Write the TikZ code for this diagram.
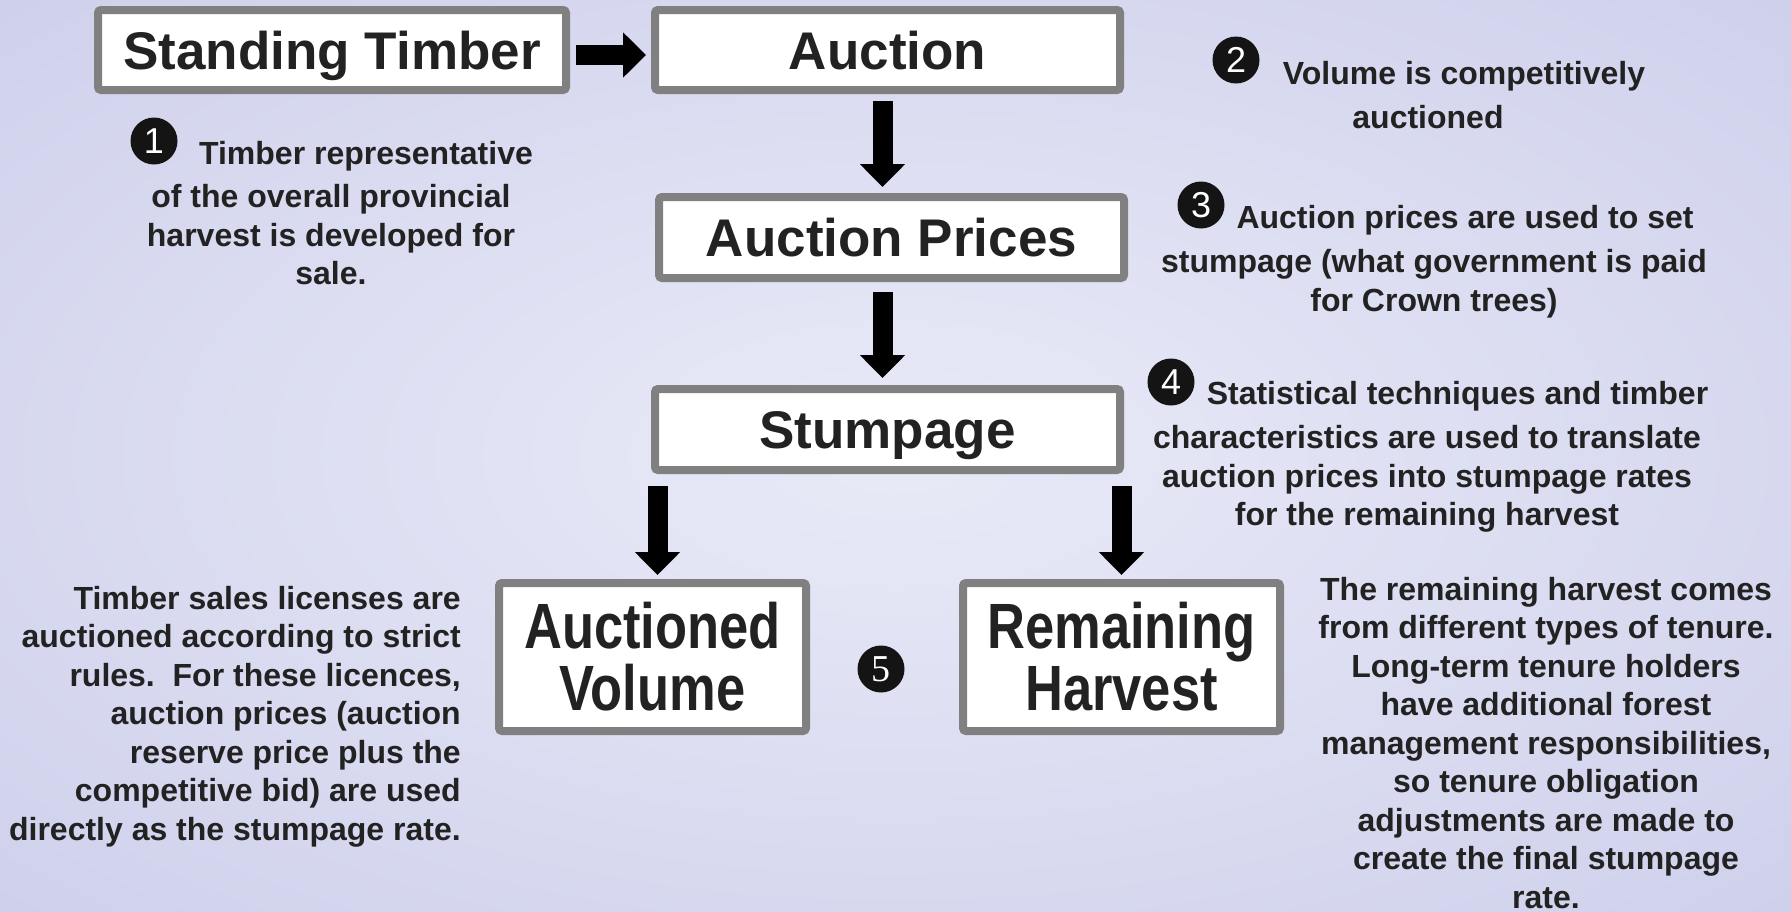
\documentclass[tikz,border=0pt]{standalone}
\usepackage{xcolor}
\usepackage{fontspec}
\setmainfont{Liberation Sans}
\newfontfamily\narrowsans[FakeStretch=0.82]{Liberation Sans}
\newfontfamily\serifdigit{Liberation Serif}
\usepackage{tikz}
\usetikzlibrary{positioning,calc,arrows.meta}

\definecolor{bginner}{RGB}{233,234,247}
\definecolor{bgouter}{RGB}{196,198,231}
\definecolor{boxgray}{RGB}{128,128,128}
\definecolor{ink}{RGB}{34,34,34}

\tikzset{
  stagebox/.style={draw=boxgray, line width=8pt, fill=white, rounded corners=3pt,
    inner sep=0pt, text=ink, text height=38pt, text depth=0pt,
    font=\bfseries\fontsize{53}{53}\selectfont},
  splitbox/.style={draw=boxgray, line width=8pt, fill=white, rounded corners=3pt,
    inner sep=0pt, text=ink, align=center, minimum height=148pt,
    font=\narrowsans\bfseries\fontsize{64}{62}\selectfont},
  flow/.style={line width=20pt, -{Triangle[width=44pt,length=23pt]}},
  numdot/.style={circle, fill=black!92, text=white, inner sep=0pt, minimum size=47pt,
    font=\fontsize{36}{36}\selectfont},
  note/.style={align=center, inner sep=0pt, text=ink, anchor=north,
    font=\bfseries\fontsize{32}{38.5}\selectfont},
}

\begin{document}
\begin{tikzpicture}[x=1pt,y=-1pt]
  \useasboundingbox (0,0) rectangle (1791,911);
  \begin{scope}
    \clip (0,0) rectangle (1791,911);
    \shade[inner color=bginner, outer color=bgouter] (-900,-460) rectangle (2690,1370);
  \end{scope}

  \node[stagebox, minimum width=468pt, minimum height=80pt] (standing) at (332,50) {Standing Timber};
  \node[stagebox, minimum width=465pt, minimum height=80pt, right=81pt of standing] (auction) {Auction};
  \node[stagebox, minimum width=465pt, minimum height=81pt, below=99pt of auction, xshift=4pt] (prices) {Auction Prices};
  \node[stagebox, minimum width=465pt, minimum height=81pt, below=103pt of prices, xshift=-4pt] (stumpage) {Stumpage};
  \node[splitbox, minimum width=307pt] (auctioned) at (652.5,657) {Auctioned\\Volume};
  \node[splitbox, minimum width=317pt] (remaining) at (1121.5,657) {Remaining\\Harvest};

  \coordinate (spine) at ([xshift=-5pt]auction.south);
  \draw[flow, shorten <=6pt, shorten >=5pt] ([yshift=-5pt]standing.east) -- ([yshift=-5pt]auction.west);
  \draw[flow, shorten <=7pt, shorten >=6pt] (spine) -- (spine |- prices.north);
  \draw[flow, shorten <=10pt, shorten >=7pt] (spine |- prices.south) -- (spine |- stumpage.north);
  \draw[flow, shorten <=12pt, shorten >=4pt] ([xshift=5pt]stumpage.south -| auctioned.north) -- ([xshift=5pt]auctioned.north);
  \draw[flow, shorten <=12pt, shorten >=4pt] (stumpage.south -| remaining.north) -- (remaining.north);

  % numbered remarks
  \node[numdot] (n1) at (154,141) {1};
  \node[note] (note1) at (331,141) {\hspace*{70pt}Timber representative\\[5pt]of the overall provincial\\harvest is developed for\\sale.};
  \node[numdot] (n2) at (1236,60) {2};
  \node[note] (note2) at (1428,61) {\hspace*{72pt}Volume is competitively\\[6pt]auctioned};
  \node[numdot] (n3) at (1201,205) {3};
  \node[note] (note3) at (1434,205) {\hspace*{62pt}Auction prices are used to set\\[6pt]stumpage (what government is paid\\for Crown trees)};
  \node[numdot] (n4) at (1171,382) {4};
  \node[note] (note4) at (1427,381) {\hspace*{61pt}Statistical techniques and timber\\[6pt]characteristics are used to translate\\auction prices into stumpage rates\\for the remaining harvest};
  \node[numdot, font=\serifdigit\fontsize{38}{38}\selectfont] (n5) at (881,669) {5};

  \node[note, align=right, anchor=north east] (soldnote) at (461,586) {Timber sales licenses are\\auctioned according to strict\\rules.\ \ For these licences,\\auction prices (auction\\reserve price plus the\\competitive bid) are used\\directly as the stumpage rate.};
  \node[note] (tenurenote) at (1546,577) {The remaining harvest comes\\from different types of tenure.\\Long-term tenure holders\\have additional forest\\management responsibilities,\\so tenure obligation\\adjustments are made to\\create the final stumpage\\rate.};
\end{tikzpicture}
\end{document}
